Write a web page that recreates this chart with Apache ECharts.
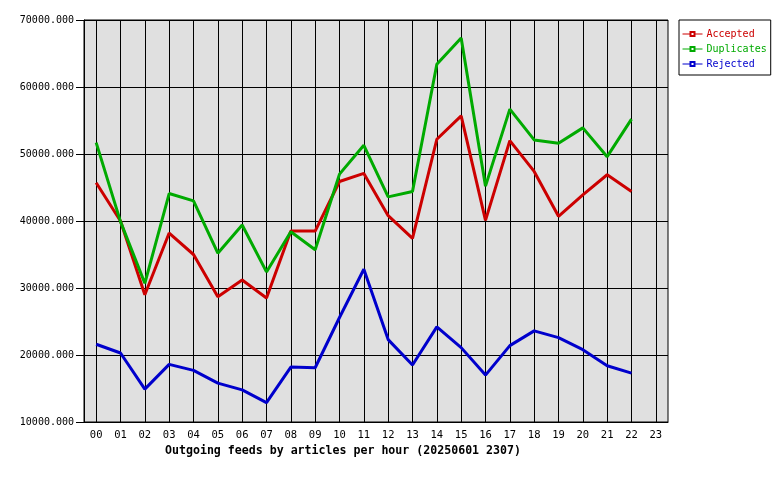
<!DOCTYPE html>
<html>
<head>
<meta charset="utf-8">
<script src="https://cdn.jsdelivr.net/npm/echarts@6/dist/echarts.min.js"></script>
<style>
  html, body { margin: 0; padding: 0; background: #fff; }
  #chart { width: 780px; height: 480px; }
</style>
</head>
<body>
<div id="chart"></div>
<script>
// hours of the day
var hours = ['00','01','02','03','04','05','06','07','08','09','10','11',
             '12','13','14','15','16','17','18','19','20','21','22','23'];
// series values (hour 23 has no data)
var accepted   = [45700, 40000, 29000, 38200, 35000, 28700, 31200, 28500, 38500, 38500, 45900, 47100,
                  40800, 37400, 52200, 55700, 40100, 52000, 47400, 40700, 43900, 46900, 44400, null];
var duplicates = [51700, 39900, 30700, 44100, 43000, 35200, 39400, 32400, 38400, 35700, 47000, 51300,
                  43600, 44400, 63400, 67300, 45200, 56700, 52100, 51600, 53900, 49600, 55200, null];
var rejected   = [21600, 20300, 14900, 18600, 17700, 15800, 14800, 12900, 18200, 18100, 25600, 32800,
                  22300, 18500, 24200, 21100, 17000, 21400, 23600, 22600, 20800, 18400, 17300, null];
var yTicks = [10000, 70000, 10000]; // min, max, step

var font = 'DejaVu Sans Mono';
var myDom = document.getElementById('chart');
var myChart = echarts.init(myDom);

function lineSeries(name, color, data) {
    return {
        name: name,
        type: 'line',
        data: data,
        symbol: 'emptyRect',
        symbolSize: 4,
        showSymbol: false,
        connectNulls: false,
        lineStyle: { color: color, width: 3 },
        itemStyle: { color: color, borderWidth: 1 },
        animation: false
    };
}

myChart.setOption({
    animation: false,
    title: {
        text: 'Outgoing feeds by articles per hour (20250601 2307)',
        left: 165,
        top: 445,
        padding: 0,
        textStyle: { fontFamily: font, fontSize: 11.6, fontWeight: 'bold', color: '#000' }
    },
    legend: {
        orient: 'vertical',
        left: 679,
        top: 20,
        width: 91,
        padding: [9, 4, 6, 3],
        itemGap: 5,
        itemWidth: 20,
        itemHeight: 5,
        backgroundColor: '#fff',
        borderColor: '#000',
        borderWidth: 1,
        borderRadius: 0,
        itemStyle: { borderWidth: 1 },
        lineStyle: { width: 1 },
        textStyle: { fontFamily: font, fontSize: 10, lineHeight: 10, padding: [0, 0, 0, -1] },
        data: [
            { name: 'Accepted', textStyle: { color: '#cc0000' } },
            { name: 'Duplicates', textStyle: { color: '#00aa00' } },
            { name: 'Rejected', textStyle: { color: '#0000cc' } }
        ]
    },
    grid: {
        left: 84,
        top: 20,
        right: 112,
        bottom: 58,
        show: true,
        backgroundColor: '#e0e0e0',
        borderColor: '#000',
        borderWidth: 1
    },
    xAxis: {
        type: 'category',
        data: hours,
        boundaryGap: true,
        axisLine: { lineStyle: { color: '#000', width: 1 } },
        axisTick: { alignWithLabel: true, length: 3, lineStyle: { color: '#000' } },
        axisLabel: { fontFamily: font, fontSize: 10.5, color: '#000', margin: 8, interval: 0 },
        splitLine: { show: true, alignWithLabel: true, interval: 0, lineStyle: { color: '#000', width: 1 } }
    },
    yAxis: {
        type: 'value',
        min: yTicks[0],
        max: yTicks[1],
        interval: yTicks[2],
        axisLine: { show: true, lineStyle: { color: '#000', width: 1 } },
        axisTick: { show: true, length: 8, lineStyle: { color: '#000' } },
        axisLabel: {
            fontFamily: font, fontSize: 10, color: '#000', margin: 10,
            formatter: function (v) { return v.toFixed(3); }
        },
        splitLine: { show: true, lineStyle: { color: '#000', width: 1 } }
    },
    series: [
        lineSeries('Accepted', '#cc0000', accepted),
        lineSeries('Duplicates', '#00aa00', duplicates),
        lineSeries('Rejected', '#0000cc', rejected)
    ]
});
</script>
</body>
</html>
